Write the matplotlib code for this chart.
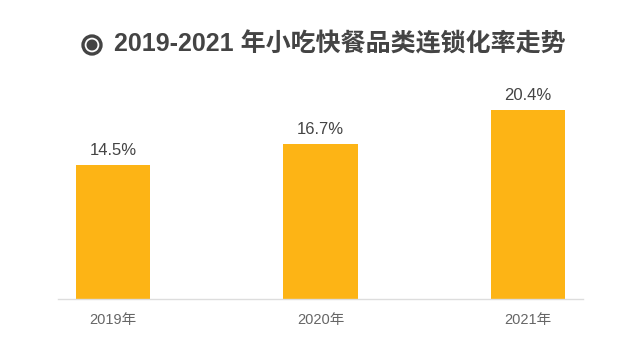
import matplotlib
matplotlib.use("Agg")
import matplotlib.pyplot as plt
from matplotlib.patches import Circle

FONTS = ['Liberation Sans', 'Noto Sans CJK SC', 'DejaVu Sans']
plt.rcParams['font.family'] = FONTS

categories = ["2019年", "2020年", "2021年"]
values = [14.5, 16.7, 20.4]
value_labels = ["14.5%", "16.7%", "20.4%"]
title = "2019-2021 年小吃快餐品类连锁化率走势"

W, H = 627, 353
fig = plt.figure(figsize=(W/100, H/100), dpi=100)
ax = fig.add_axes([58/W, 1-299/H, 525/W, 219/H])

x = range(len(categories))
ax.bar(x, values, width=0.358, color="#FDB415", zorder=2)
ax.set_xlim(-0.266, 2.266)
ax.set_ylim(0, 23.64)

for xi, v, lab in zip(x, values, value_labels):
    ax.annotate(lab, (xi, v), xytext=(0, 5), textcoords="offset points",
                ha="center", va="bottom", fontsize=12, color="#444444")

ax.set_xticks(list(x))
ax.set_xticklabels(categories, fontsize=10.5, color="#666666")
ax.tick_params(axis="x", length=0, pad=10)
ax.set_yticks([])
for s in ["top", "right", "left"]:
    ax.spines[s].set_visible(False)
ax.spines["bottom"].set_color("#DDDDDD")
ax.spines["bottom"].set_linewidth(1)

# title icon (ring with dot), drawn in an overlay axes in pixel units
ov = fig.add_axes([0, 0, 1, 1], zorder=-1)
ov.set_xlim(0, W)
ov.set_ylim(H, 0)
ov.axis("off")
ov.add_patch(Circle((92, 45), 9.0, fill=False, edgecolor="#444444", linewidth=2.4))
ov.add_patch(Circle((92, 45), 4.8, color="#444444"))

fig.text(114/W, 1-44/H, title, fontsize=18, fontweight="bold",
         color="#444444", ha="left", va="center")

fig.savefig("out.png", dpi=100)
